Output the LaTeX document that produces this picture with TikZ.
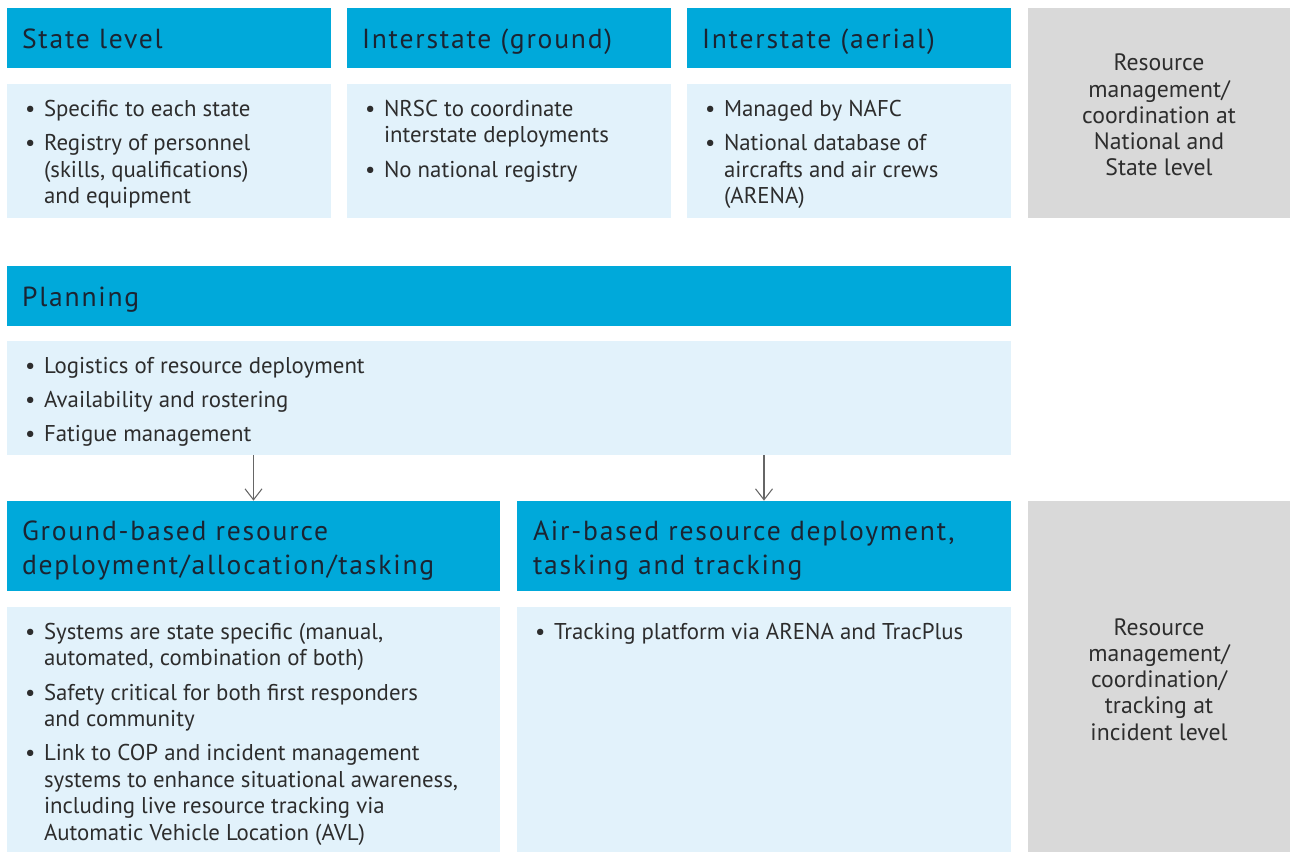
\documentclass[tikz,border=0pt]{standalone}
\usepackage{fontspec}
\setmainfont{PT Sans}
\newfontfamily\headfont[LetterSpace=6.5]{PT Sans}
\usetikzlibrary{arrows.meta,positioning,calc}
\definecolor{headblue}{RGB}{0,169,218}
\definecolor{bodyblue}{RGB}{226,242,251}
\definecolor{sidegray}{RGB}{217,217,217}
\definecolor{headtext}{RGB}{27,36,50}
\definecolor{bodytext}{RGB}{45,45,45}
\newcommand{\itm}{\makebox[0.38cm][l]{\textbullet}}
\newcommand{\cont}{\hspace*{0.38cm}}

\begin{document}
\begin{tikzpicture}[x=0.02cm,y=-0.02cm,
  head/.style={rectangle,fill=headblue,inner sep=0pt},
  body/.style={rectangle,fill=bodyblue,inner sep=0pt},
  side/.style={rectangle,fill=sidegray,inner sep=0pt,minimum width=5.24cm},
  htxt/.style={anchor=west,align=left,inner sep=0pt,text=headtext,
               font=\headfont\fontsize{15.7}{19.3}\selectfont,
               execute at begin node=\strut,execute at end node=\strut},
  btxt/.style={anchor=north west,align=left,inner sep=0pt,text=bodytext,
               font=\fontsize{13}{15.05}\selectfont},
  stxt/.style={align=center,inner sep=0pt,text=bodytext,
               font=\fontsize{13.5}{14.9}\selectfont},
  arr/.style={-{Straight Barb[length=2.2mm,width=3.4mm]},semithick,draw=black!60}
]
  \useasboundingbox (0,0) rectangle (1290,852);

  \node[head,minimum width=6.48cm,minimum height=1.2cm] (stateH)  at (169,38)  {};
  \node[head,minimum width=6.48cm,minimum height=1.2cm] (groundH) at (509,38)  {};
  \node[head,minimum width=6.48cm,minimum height=1.2cm] (aerialH) at (849,38)  {};
  \node[body,minimum width=6.48cm,minimum height=2.68cm] (stateB)  at (169,151) {};
  \node[body,minimum width=6.48cm,minimum height=2.68cm] (groundB) at (509,151) {};
  \node[body,minimum width=6.48cm,minimum height=2.68cm] (aerialB) at (849,151) {};
  \node[side,minimum height=4.2cm] (natSide) at (1159,113) {};

  \node[head,minimum width=20.08cm,minimum height=1.2cm] (planH) at (509,296) {};
  \node[body,minimum width=20.08cm,minimum height=2.28cm] (planB) at (509,398) {};

  \node[head,minimum width=9.86cm,minimum height=1.8cm] (gbH) at (253.5,546) {};
  \node[head,minimum width=9.88cm,minimum height=1.8cm] (abH) at (764,546) {};
  \node[body,minimum width=9.86cm,minimum height=4.9cm] (gbB) at (253.5,729.5) {};
  \node[body,minimum width=9.88cm,minimum height=4.9cm] (abB) at (764,729.5) {};
  \node[side,minimum height=7.02cm] (incSide) at (1159,676.5) {};

  \node[htxt] (stateT)  at ([shift={(15,4)}]stateH.west)  {State level};
  \node[htxt] (groundT) at ([shift={(15,4)}]groundH.west) {Interstate (ground)};
  \node[htxt] (aerialT) at ([shift={(15,4)}]aerialH.west) {Interstate (aerial)};
  \node[htxt] (planT)   at ([shift={(15,4)}]planH.west)   {Planning};
  \node[htxt] (gbT)     at ([shift={(15,7)}]gbH.west)     {Ground-based resource\\deployment/allocation/tasking};
  \node[htxt] (abT)     at ([shift={(16,7)}]abH.west)     {Air-based resource deployment,\\tasking and tracking};

  \node[btxt] (stateL) at ([shift={(18,16)}]stateB.north west)
    {\itm Specific to each state\\[4.5pt]
     \itm Registry of personnel\\ \cont (skills, qualifications)\\ \cont and equipment};
  \node[btxt] (groundL) at ([shift={(18,16)}]groundB.north west)
    {\itm NRSC to coordinate\\ \cont interstate deployments\\[4.5pt]
     \itm No national registry};
  \node[btxt] (aerialL) at ([shift={(18,16)}]aerialB.north west)
    {\itm Managed by NAFC\\[4.5pt]
     \itm National database of\\ \cont aircrafts and air crews\\ \cont (ARENA)};
  \node[btxt] (planL) at ([shift={(18,16)}]planB.north west)
    {\itm Logistics of resource deployment\\[4.5pt]
     \itm Availability and rostering\\[4.5pt]
     \itm Fatigue management};
  \node[btxt] (gbL) at ([shift={(18,16)}]gbB.north west)
    {\itm Systems are state specific (manual,\\ \cont automated, combination of both)\\[4.5pt]
     \itm Safety critical for both first responders\\ \cont and community\\[4.5pt]
     \itm Link to COP and incident management\\ \cont systems to enhance situational awareness,\\
     \cont including live resource tracking via\\ \cont Automatic Vehicle Location (AVL)};
  \node[btxt] (abL) at ([shift={(18,16)}]abB.north west)
    {\itm Tracking platform via ARENA and TracPlus};

  \node[stxt] (natT) at ([yshift=-0.04cm]natSide.center) {Resource\\management/\\coordination at\\National and\\State level};
  \node[stxt] (incT) at ([yshift=-0.06cm]incSide.center) {Resource\\management/\\coordination/\\tracking at\\incident level};

  \draw[arr] (planB.south -| gbH.north) -- (gbH.north);
  \draw[arr] (planB.south -| abH.north) -- (abH.north);
\end{tikzpicture}
\end{document}
